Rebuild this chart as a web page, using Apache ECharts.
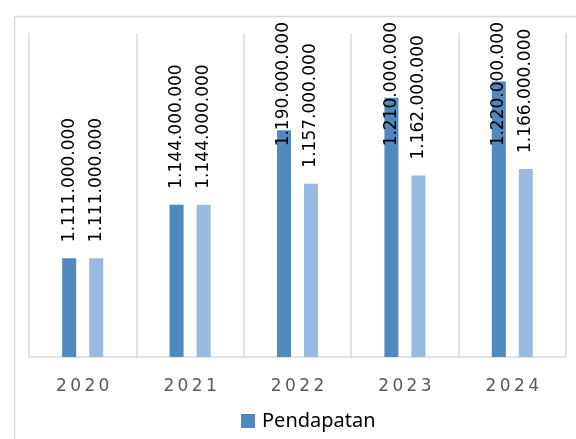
<!DOCTYPE html>
<html>
<head>
<meta charset="utf-8">
<script src="https://cdn.jsdelivr.net/npm/echarts@6/dist/echarts.min.js"></script>
<style>
  html, body { margin: 0; padding: 0; background: #fff; }
  #myChart { width: 576px; height: 439px; }
</style>
</head>
<body>
<div id="myChart"></div>
<script>
  var years = ['2020', '2021', '2022', '2023', '2024'];
  var pendapatan = [1111000000, 1144000000, 1190000000, 1210000000, 1220000000];
  var pendapatan2 = [1111000000, 1144000000, 1157000000, 1162000000, 1166000000];

  // titik sebagai pemisah ribuan
  function fmt(v) {
    return String(v).replace(/\B(?=(\d{3})+(?!\d))/g, '.');
  }

  // label yang keluar dari atas digeser turun (teks diputar 90 derajat)
  function keepInside(p) {
    var r = p.labelRect;
    if (r.y < 22) return { dx: r.y - 22 };
  }

  var barLabel = {
    show: true,
    position: 'top',
    rotate: 90,
    align: 'left',
    verticalAlign: 'middle',
    distance: 16,
    color: '#000',
    fontFamily: 'DejaVu Sans',
    fontSize: 17,
    formatter: function (p) { return fmt(p.value); }
  };

  var option = {
    animation: false,
    graphic: [{
      type: 'rect',
      left: 12, top: 14,
      shape: { width: 620, height: 480 },
      style: { fill: 'none', stroke: '#d9d9d9', lineWidth: 1.5 },
      silent: true
    }],
    grid: { left: 29, right: 10, top: 33, bottom: 82 },
    legend: {
      data: ['Pendapatan'],
      left: 236,
      top: 406,
      icon: 'rect',
      itemWidth: 14,
      itemHeight: 14,
      textStyle: { color: '#000', fontFamily: 'Noto Sans', fontSize: 20, padding: [0, 0, 0, 2] }
    },
    xAxis: {
      type: 'category',
      data: years,
      axisTick: { show: false },
      axisLine: { lineStyle: { color: '#d9d9d9', width: 1.5 } },
      axisLabel: {
        color: '#595959',
        fontFamily: 'DejaVu Sans',
        fontSize: 17,
        margin: 21,
        formatter: function (v) { return v.split('').join('\u2009'); }
      },
      splitLine: { show: true, lineStyle: { color: '#d9d9d9', width: 1.5 } }
    },
    yAxis: {
      type: 'value',
      show: false,
      min: 1050000000,
      max: 1250000000,
      splitLine: { show: false }
    },
    series: [
      {
        name: 'Pendapatan',
        type: 'bar',
        data: pendapatan,
        barWidth: 14,
        barGap: '93%',
        itemStyle: { color: '#4f89bd' },
        label: barLabel,
        labelLayout: keepInside
      },
      {
        name: 'Pendapatan 2',
        type: 'bar',
        data: pendapatan2,
        barWidth: 14,
        itemStyle: { color: '#98b9e0' },
        label: barLabel,
        labelLayout: keepInside
      }
    ]
  };

  var myChart = echarts.init(document.getElementById('myChart'));
  myChart.setOption(option);
</script>
</body>
</html>
